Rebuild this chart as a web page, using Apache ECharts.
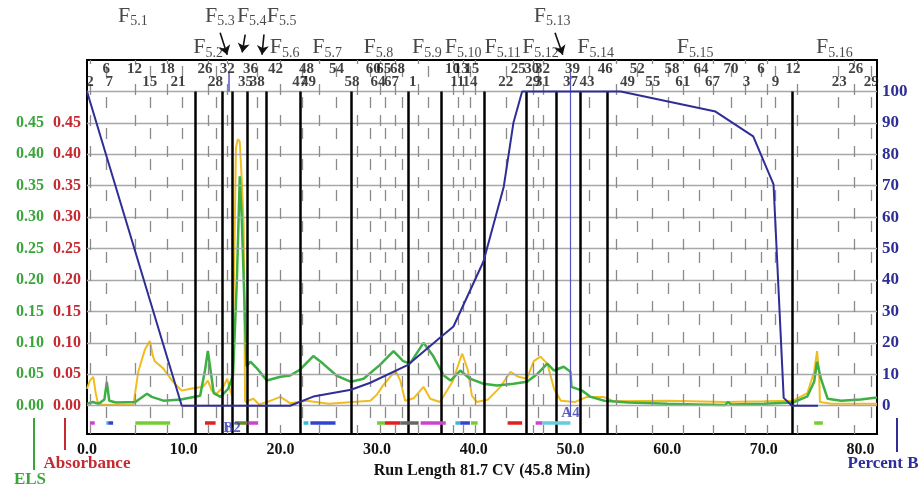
<!DOCTYPE html>
<html><head><meta charset="utf-8">
<script src="https://cdn.jsdelivr.net/npm/echarts@6/dist/echarts.min.js"></script>
<style>html,body{margin:0;padding:0;background:#fff}#c{width:919px;height:486px}</style>
</head><body><div id="c"></div>
<script>
// ---- data (x = run length CV) ----
const absorbance = [[0,0.027],[0.3,0.04],[0.65,0.046],[0.9,0.02],[1.1,0.006],[1.5,0.002],[3,0.001],[4.8,0.002],[5.3,0.054],[6.0,0.09],[6.5,0.103],[6.8,0.08],[7.0,0.071],[7.9,0.059],[8.9,0.038],[9.8,0.024],[10.7,0.027],[12.0,0.03],[12.5,0.04],[12.9,0.024],[13.4,0.019],[14.1,0.03],[14.5,0.043],[14.8,0.025],[15.0,0.016],[15.2,0.2],[15.4,0.41],[15.6,0.424],[15.8,0.42],[16.0,0.36],[16.2,0.29],[16.35,0.006],[17.2,0.011],[17.8,0.002],[19.0,0.008],[20.0,0.014],[21.0,0.004],[22.7,0.008],[25,0.003],[29.3,0.008],[30.0,0.018],[30.6,0.032],[31.9,0.056],[32.4,0.04],[32.9,0.008],[33.8,0.012],[34.8,0.03],[35.5,0.011],[36.5,0.006],[37.8,0.038],[38.8,0.083],[39.4,0.056],[39.8,0.016],[40.3,0.006],[41.5,0.01],[42.75,0.03],[43.8,0.054],[44.6,0.046],[45.5,0.043],[46.2,0.071],[46.9,0.078],[47.6,0.067],[48.3,0.027],[49.0,0.008],[50.5,0.006],[51.7,0.014],[53.4,0.014],[54.5,0.007],[60,0.008],[66,0.006],[70,0.007],[73,0.008],[74.5,0.02],[75.2,0.054],[75.5,0.087],[75.7,0.054],[75.8,0.006],[77,0.003],[81.7,0.003]];
const els = [[0,0.003],[0.6,0.006],[1.2,0.003],[1.8,0.01],[2.05,0.038],[2.3,0.008],[3,0.005],[5.0,0.006],[6.2,0.019],[6.7,0.014],[7.9,0.008],[9.7,0.01],[11.7,0.016],[12.2,0.056],[12.5,0.087],[12.9,0.043],[13.1,0.02],[13.8,0.014],[14.6,0.027],[15.1,0.048],[15.5,0.2],[15.8,0.365],[16.0,0.3],[16.35,0.133],[16.5,0.063],[16.9,0.07],[17.6,0.059],[18.6,0.04],[20.0,0.046],[21.0,0.048],[22.0,0.057],[23.4,0.079],[24.4,0.067],[25.8,0.048],[27.3,0.038],[28.6,0.043],[30.3,0.065],[31.7,0.087],[32.7,0.071],[33.4,0.067],[34.8,0.1],[35.8,0.079],[36.9,0.048],[37.6,0.04],[38.6,0.056],[39.6,0.043],[41.0,0.035],[42.4,0.032],[44.1,0.035],[45.5,0.038],[46.6,0.051],[47.6,0.067],[48.3,0.056],[49.3,0.062],[50.0,0.054],[50.1,0.03],[51.2,0.024],[52.1,0.014],[53.5,0.008],[56,0.005],[60,0.003],[63,0.002],[66,0.001],[66.3,0.006],[66.6,0.002],[70,0.003],[73,0.005],[74.5,0.015],[75.2,0.038],[75.5,0.07],[75.9,0.043],[76.6,0.011],[78,0.008],[80,0.01],[81.7,0.013]];
const percentB = [[0,100],[9.8,0],[21.0,0],[23.4,2.9],[27.3,5.1],[29.3,7.3],[33.2,13],[36.5,21.6],[37.9,25.2],[41.0,45.9],[43.1,69.7],[44.1,90],[45.0,100],[55.2,100],[65.0,93.6],[68.9,85.7],[71.0,70.4],[72.05,2.5],[72.9,0],[75.6,0]];

const fractionBounds = [11.2,14.0,15.0,16.6,18.5,22.1,27.3,33.2,36.6,41.1,45.4,48.5,51.0,53.8,72.9];
const tubeLines = [0.3,2.0,5.0,6.5,8.3,9.8,12.5,13.4,14.5,17.6,20.0,22.3,24.0,25.8,27.9,29.3,30.3,30.8,31.9,32.6,34.3,35.3,37.9,38.4,38.9,39.6,40.2,43.4,46.2,46.7,47.2,51.9,54.7,56.9,58.5,60.1,61.7,63.3,64.8,66.6,68.1,69.7,70.4,71.2,73.5,77.7,79.3,81.1];
const gridValues = [0,10,20,30,40,50,60,70,80,90,100];
const absTicks = [0,0.05,0.10,0.15,0.20,0.25,0.30,0.35,0.40,0.45];

const row1Pos = [2.0,4.9,8.3,12.2,14.5,16.9,19.5,22.7,25.8,29.6,30.7,32.1,37.8,38.7,39.8,44.6,46.0,47.1,50.2,53.6,56.9,60.5,63.5,66.6,69.7,73.0,79.5];
const row1Text = ['6','12','18','26','32','36','42','48','54','60','65','68','10','13','15','25','30','32','39','46','52','58','64','70','6','12','26'];
const row2Pos = [0.3,2.3,6.5,9.4,13.3,16.4,17.6,22.0,22.9,27.4,30.1,31.5,33.7,38.3,39.6,43.3,46.1,47.1,50.0,51.7,55.9,58.5,61.6,64.7,68.2,71.2,77.8,81.1];
const row2Text = ['2','7','15','21','28','35','38','47','49','58','64','67','1','11','14','22','29','31','37','43','49','55','61','67','3','9','23','29'];

const fracNames = ['5.1','5.2','5.3','5.4','5.5','5.6','5.7','5.8','5.9','5.10','5.11','5.12','5.13','5.14','5.15','5.16'];
const fracX = [3.2,11.0,12.2,15.5,18.6,18.9,23.3,28.6,33.6,37.0,41.1,45.0,46.2,50.7,61.0,75.4];
const fracRow = [1,2,1,1,1,2,2,2,2,2,2,2,1,2,2,2]; // 1 = upper row, 2 = lower row
const arrows = [[[13.77,118.7],[14.5,111.7]],[[16.36,118.1],[16.05,112.4]],[[18.3,118.1],[18.1,111.7]],[[48.4,118.7],[49.2,111.7]]];

const collectBars = [[0.3,0.8,'#cc44cc'],[2.0,2.2,'#33bbdd'],[2.2,2.7,'#3344cc'],[5.0,8.6,'#77cc33'],[12.2,13.3,'#dd2222'],[15.3,16.6,'#668833'],[16.7,17.7,'#cc44cc'],[22.4,22.9,'#33bbdd'],[23.1,25.7,'#3344cc'],[30.0,30.8,'#77cc33'],[30.8,32.4,'#dd2222'],[32.4,34.3,'#666666'],[34.5,37.1,'#cc44cc'],[38.1,38.6,'#33bbdd'],[38.6,39.6,'#3344cc'],[39.7,40.4,'#77cc33'],[43.5,45.0,'#dd2222'],[46.4,47.1,'#cc44cc'],[47.1,50.0,'#66ccdd'],[75.2,76.1,'#77cc33']];
const markerNames = [['B2',15.0,-7],['A4',50.0,-2.2]];

// ---- chart ----
const SERIF = '"Liberation Serif", "DejaVu Serif", serif';
const X_MAX = 81.7, Y_MIN = -9, Y_MAX = 110;
const BLUE = '#2e2e96', RED = '#c42a30', GREEN = '#3aa63a';

const ml = [];
gridValues.forEach(v => ml.push([{coord:[0,v], lineStyle:{color:'#a8a8a8', width:1.3, type:'solid'}},{coord:[X_MAX,v]}]));
tubeLines.forEach((v,i) => ml.push([{coord:[v,Y_MIN], lineStyle:{color:'#8a8a8a', width:1.3, type:[11,20], dashOffset: i%2 ? 15 : 2}},{coord:[v,Y_MAX]}]));
fractionBounds.forEach(v => ml.push([{coord:[v,Y_MIN], lineStyle:{color:'#000', width:2.5, type:'solid'}},{coord:[v,100]}]));
ml.push([{coord:[50.0,-3], lineStyle:{color:'#5555c0', width:1.2, type:'solid'}},{coord:[50.0,106]}]);
ml.push([{coord:[14.7,100], lineStyle:{color:'#5555c0', width:1.5, type:'solid'}},{coord:[14.7,106]}]);
collectBars.forEach(b => ml.push([{coord:[b[0],-5.4], lineStyle:{color:b[2], width:3.5, type:'solid'}},{coord:[b[1],-5.4]}]));

const labelData = [];
row1Pos.forEach((x,i)=>labelData.push({value:[x,107], label:{formatter:row1Text[i], fontFamily:SERIF, fontWeight:'bold', fontSize:15, color:'#111'}}));
row2Pos.forEach((x,i)=>labelData.push({value:[x,103], label:{formatter:row2Text[i], fontFamily:SERIF, fontWeight:'bold', fontSize:15, color:'#111'}}));
fracNames.forEach((n,i)=>labelData.push({value:[fracX[i], fracRow[i]===1 ? 124 : 114], label:{formatter:'{f|F}{s|'+n+'}', align:'left'}}));
markerNames.forEach(m=>labelData.push({value:[m[1],m[2]], label:{formatter:m[0], fontFamily:SERIF, fontWeight:'bold', fontSize:15, color:'#3636b0'}}));

const chart = echarts.init(document.getElementById('c'), null, {renderer:'canvas'});
chart.setOption({
  animation:false,
  backgroundColor:'#fff',
  grid:{left:87, right:42, top:60, bottom:52, show:true, borderColor:'#000', borderWidth:2, backgroundColor:'transparent'},
  xAxis:{type:'value', min:0, max:X_MAX, interval:10,
    axisLine:{show:false}, axisTick:{show:false}, splitLine:{show:false},
    axisLabel:{showMaxLabel:false, margin:8, formatter:v=>v.toFixed(1), fontFamily:SERIF, fontWeight:'bold', fontSize:16, color:'#111'},
    name:'Run Length 81.7 CV (45.8 Min)', nameLocation:'middle', nameGap:22,
    nameTextStyle:{fontFamily:SERIF, fontWeight:'bold', fontSize:16, color:'#111'}},
  yAxis:[
    {type:'value', position:'left', min:Y_MIN/200, max:Y_MAX/200,
      axisLine:{show:false}, axisTick:{show:false}, splitLine:{show:false},
      axisLabel:{customValues:absTicks, margin:6, formatter:v=>v.toFixed(2), fontFamily:SERIF, fontWeight:'bold', fontSize:16, color:RED}},
    {type:'value', position:'left', offset:37, min:Y_MIN/200, max:Y_MAX/200,
      axisLine:{show:false}, axisTick:{show:false}, splitLine:{show:false},
      axisLabel:{customValues:absTicks, margin:6, formatter:v=>v.toFixed(2), fontFamily:SERIF, fontWeight:'bold', fontSize:16, color:GREEN}},
    {type:'value', position:'right', min:Y_MIN, max:Y_MAX,
      axisLine:{show:false}, axisTick:{show:false}, splitLine:{show:false},
      axisLabel:{customValues:gridValues, margin:5, formatter:v=>String(v), fontFamily:SERIF, fontWeight:'bold', fontSize:17, color:BLUE}}
  ],
  series:[
    {type:'line', yAxisIndex:2, data:[], silent:true, z:1,
      markLine:{silent:true, symbol:['none','none'], label:{show:false}, animation:false, emphasis:{disabled:true}, data:ml}},
    {name:'Absorbance', type:'line', yAxisIndex:0, data:absorbance, showSymbol:false, z:3,
      lineStyle:{color:'#f0bd1f', width:2}},
    {name:'ELS', type:'line', yAxisIndex:0, data:els, showSymbol:false, z:4,
      lineStyle:{color:'#3cb043', width:2.5}},
    {name:'Percent B', type:'line', yAxisIndex:2, data:percentB, showSymbol:false, z:5,
      lineStyle:{color:BLUE, width:2}},
    {type:'scatter', yAxisIndex:2, data:labelData, symbolSize:0, clip:false, silent:true, z:6,
      label:{show:true, position:'inside', color:'#111',
        rich:{f:{fontFamily:SERIF, fontSize:22, color:'#1a1a1a', lineHeight:25},
              s:{fontFamily:SERIF, fontSize:14, color:'#1a1a1a', lineHeight:14, padding:[11,0,0,0]}}}},
    {type:'lines', coordinateSystem:'cartesian2d', yAxisIndex:2, clip:false, silent:true, z:6,
      symbol:['none','arrow'], symbolSize:9,
      lineStyle:{color:'#111', width:1.6, opacity:1},
      data:arrows.map(a=>({coords:a}))}
  ],
  graphic:[
    {type:'line', shape:{x1:34,y1:418,x2:34,y2:470}, style:{stroke:GREEN, lineWidth:2}},
    {type:'line', shape:{x1:65,y1:418,x2:65,y2:450}, style:{stroke:RED, lineWidth:2}},
    {type:'line', shape:{x1:897,y1:418,x2:897,y2:452}, style:{stroke:BLUE, lineWidth:2}},
    {type:'text', x:87, y:464, style:{text:'Absorbance', font:'bold 17px '+SERIF, fill:RED, textAlign:'center', textVerticalAlign:'middle'}},
    {type:'text', x:30, y:480, style:{text:'ELS', font:'bold 17px '+SERIF, fill:GREEN, textAlign:'center', textVerticalAlign:'middle'}},
    {type:'text', x:883, y:464, style:{text:'Percent B', font:'bold 17px '+SERIF, fill:BLUE, textAlign:'center', textVerticalAlign:'middle'}}
  ]
});
</script></body></html>
